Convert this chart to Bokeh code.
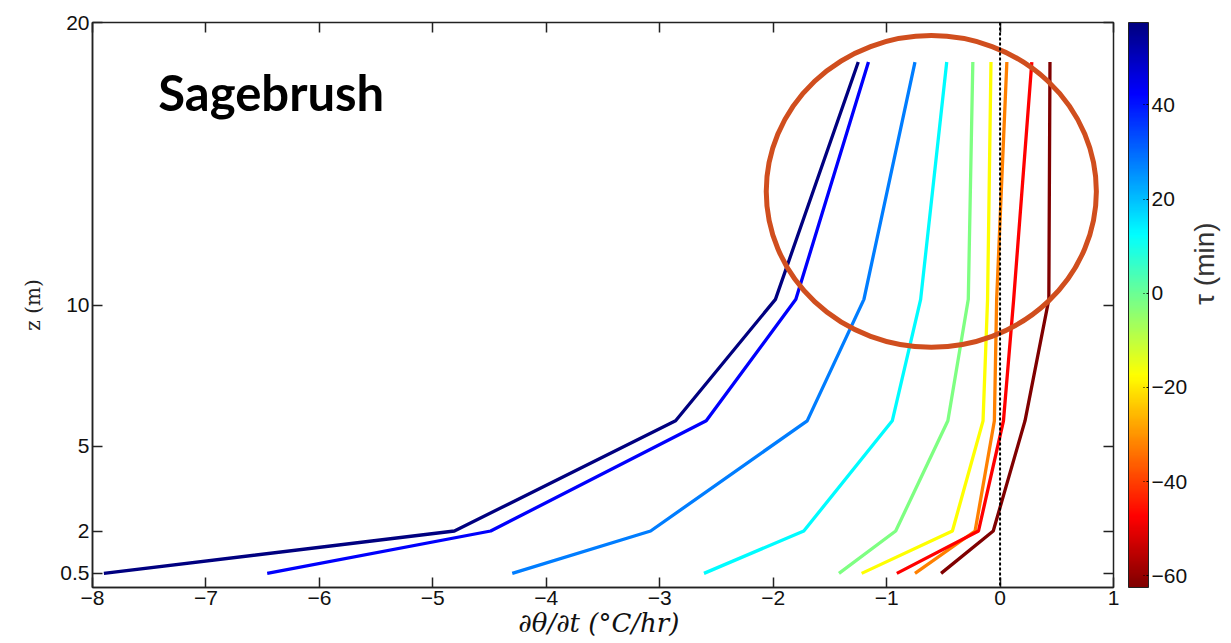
import math
from bokeh.plotting import figure
from bokeh.models import (LinearAxis, FixedTicker, ColorBar, LinearColorMapper, Span,
                          Label, ColumnDataSource, Range1d)
from bokeh.embed import file_html
from bokeh.resources import INLINE

# ---- data ----
tau_min = [57.5, 42.5, 27.5, 12.5, -2.5, -17.5, -32.5, -47.5, -62.5]
z_levels = [0.5, 2.0, 5.9, 10.2, 18.6]
rate_tau_57 = [-7.90, -4.81, -2.86, -1.98, -1.25]
rate_tau_42 = [-6.46, -4.49, -2.59, -1.80, -1.16]
rate_tau_27 = [-4.30, -3.08, -1.70, -1.20, -0.75]
rate_tau_12 = [-2.61, -1.73, -0.95, -0.70, -0.47]
rate_tau_m2 = [-1.42, -0.92, -0.46, -0.28, -0.24]
rate_tau_m17 = [-1.22, -0.42, -0.15, -0.11, -0.08]
rate_tau_m32 = [-0.75, -0.22, -0.05, -0.03, 0.06]
rate_tau_m47 = [-0.91, -0.19, 0.03, 0.12, 0.28]
rate_tau_m62 = [-0.52, -0.06, 0.22, 0.43, 0.44]

x_ticks = [-8, -7, -6, -5, -4, -3, -2, -1, 0, 1]
x_tick_labels = ["\u22128", "\u22127", "\u22126", "\u22125", "\u22124", "\u22123", "\u22122", "\u22121", "0", "1"]
y_ticks = [0.5, 2, 5, 10, 20]
y_tick_labels = ["0.5", "2", "5", "10", "20"]
cb_ticks = [-60, -40, -20, 0, 20, 40]
cb_tick_labels = ["\u221260", "\u221240", "\u221220", "0", "20", "40"]

# annotation (ellipse) and title text
circle_center = (-0.606, 14.02)
circle_size = (2.91, 11.04)
title_text = "Sagebrush"
title_pos = (-7.42, 17.55)
cbar_label = "\u03c4  (min)"

# jet colormap palette
def jet(n=256):
    out = []
    for i in range(n):
        t = i / (n - 1)
        def c(v):
            return max(0.0, min(1.0, v))
        r = c(min(4 * t - 1.5, -4 * t + 4.5))
        g = c(min(4 * t - 0.5, -4 * t + 3.5))
        b = c(min(4 * t + 0.5, -4 * t + 2.5))
        out.append("#%02x%02x%02x" % (int(round(r * 255)), int(round(g * 255)), int(round(b * 255))))
    return out

palette = jet()[::-1]
mapper = LinearColorMapper(palette=palette, low=-62.5, high=57.5)

rates = [rate_tau_57, rate_tau_42, rate_tau_27, rate_tau_12, rate_tau_m2,
         rate_tau_m17, rate_tau_m32, rate_tau_m47, rate_tau_m62]

src = ColumnDataSource(dict(xs=rates, ys=[z_levels] * len(rates), tau=tau_min))

p = figure(frame_width=1021, frame_height=565, output_backend="svg", toolbar_location=None,
           x_range=Range1d(-8, 1), y_range=Range1d(0, 20),
           min_border_left=92, min_border_top=22, min_border_bottom=56, min_border_right=118)
p.background_fill_color = "white"
p.border_fill_color = "white"
p.grid.visible = False
p.outline_line_color = "#222222"
p.outline_line_width = 1.5

axis_font = "Liberation Sans"
for ax in [p.xaxis[0], p.yaxis[0]]:
    ax.major_tick_in = 10
    ax.major_tick_out = 0
    ax.minor_tick_in = 0
    ax.minor_tick_out = 0
    ax.axis_line_color = "#222222"
    ax.axis_line_width = 1.5
    ax.major_tick_line_color = "#222222"
    ax.major_tick_line_width = 1.5
    ax.major_label_text_font = axis_font
    ax.major_label_text_font_size = "21px"
    ax.major_label_text_color = "#111111"
    ax.major_label_standoff = 3

p.xaxis[0].ticker = FixedTicker(ticks=x_ticks)
p.xaxis[0].major_label_overrides = {t: l for t, l in zip(x_ticks, x_tick_labels)}
p.yaxis[0].ticker = FixedTicker(ticks=y_ticks)
p.yaxis[0].major_label_overrides = {t: l for t, l in zip(y_ticks, y_tick_labels)}

p.xaxis[0].axis_label = "\u2202\u03b8/\u2202t  (\u00b0C/hr)"
p.xaxis[0].axis_label_text_font = "DejaVu Serif"
p.xaxis[0].axis_label_text_font_style = "italic"
p.xaxis[0].axis_label_text_font_size = "26px"
p.xaxis[0].axis_label_text_color = "#111111"
p.xaxis[0].axis_label_standoff = 0
p.yaxis[0].axis_label = "z (m)"
p.yaxis[0].axis_label_text_font = "DejaVu Serif"
p.yaxis[0].axis_label_text_font_style = "normal"
p.yaxis[0].axis_label_text_font_size = "20px"
p.yaxis[0].axis_label_text_color = "#222222"
p.yaxis[0].axis_label_standoff = 12

# mirrored axes (ticks only, labels invisible)
top_ax = LinearAxis(ticker=FixedTicker(ticks=x_ticks), major_tick_in=10, major_tick_out=0,
                    major_label_text_font_size="1px", major_label_text_color=None,
                    axis_line_color="#222222",
                    major_tick_line_color="#222222", major_tick_line_width=1.5,
                    minor_tick_in=0, minor_tick_out=0, major_label_standoff=0)
right_ax = LinearAxis(ticker=FixedTicker(ticks=y_ticks), major_tick_in=10, major_tick_out=0,
                      major_label_text_font_size="1px", major_label_text_color=None,
                      axis_line_color="#222222",
                      major_tick_line_color="#222222", major_tick_line_width=1.5,
                      minor_tick_in=0, minor_tick_out=0, major_label_standoff=0)
p.add_layout(top_ax, "above")
p.add_layout(right_ax, "right")

color_bar = ColorBar(color_mapper=mapper, ticker=FixedTicker(ticks=cb_ticks),
                     major_label_overrides={t: l for t, l in zip(cb_ticks, cb_tick_labels)},
                     width=20, padding=0, margin=0, label_standoff=3, location=(15, 0),
                     major_tick_in=5, major_tick_out=0, major_tick_line_color="black",
                     major_tick_line_dash="2 2",
                     bar_line_color="#222222", bar_line_width=1,
                     major_label_text_font=axis_font, major_label_text_font_size="21px",
                     major_label_text_color="#111111", background_fill_color=None,
                     border_line_color=None)
p.add_layout(color_bar, "right")

label_ax = LinearAxis(major_tick_in=0, major_tick_out=0, minor_tick_in=0, minor_tick_out=0,
                      major_label_text_font_size="1px", major_label_text_color=None,
                      axis_line_color=None, major_label_standoff=0,
                      axis_label=cbar_label, axis_label_text_font=axis_font,
                      axis_label_text_font_style="normal", axis_label_text_font_size="28px",
                      axis_label_text_color="#333333", axis_label_standoff=14)
try:
    label_ax.axis_label_orientation = math.pi / 2
except Exception:
    pass
p.add_layout(label_ax, "right")

# zero line
p.add_layout(Span(location=0, dimension="height", line_color="black",
                  line_dash="3 2", line_width=2))

# profiles
p.multi_line(xs="xs", ys="ys", source=src, line_width=3.3,
             line_color={"field": "tau", "transform": mapper})

# annotation ellipse
p.ellipse(x=[circle_center[0]], y=[circle_center[1]], width=circle_size[0], height=circle_size[1],
          fill_color=None, line_color="#D04E1E", line_width=5)

p.add_layout(Label(x=title_pos[0], y=title_pos[1], text=title_text, text_font="Lato",
                   text_font_style="bold", text_font_size="49px", text_color="black",
                   text_baseline="alphabetic"))

open("out.html", "w").write(file_html(p, INLINE))
